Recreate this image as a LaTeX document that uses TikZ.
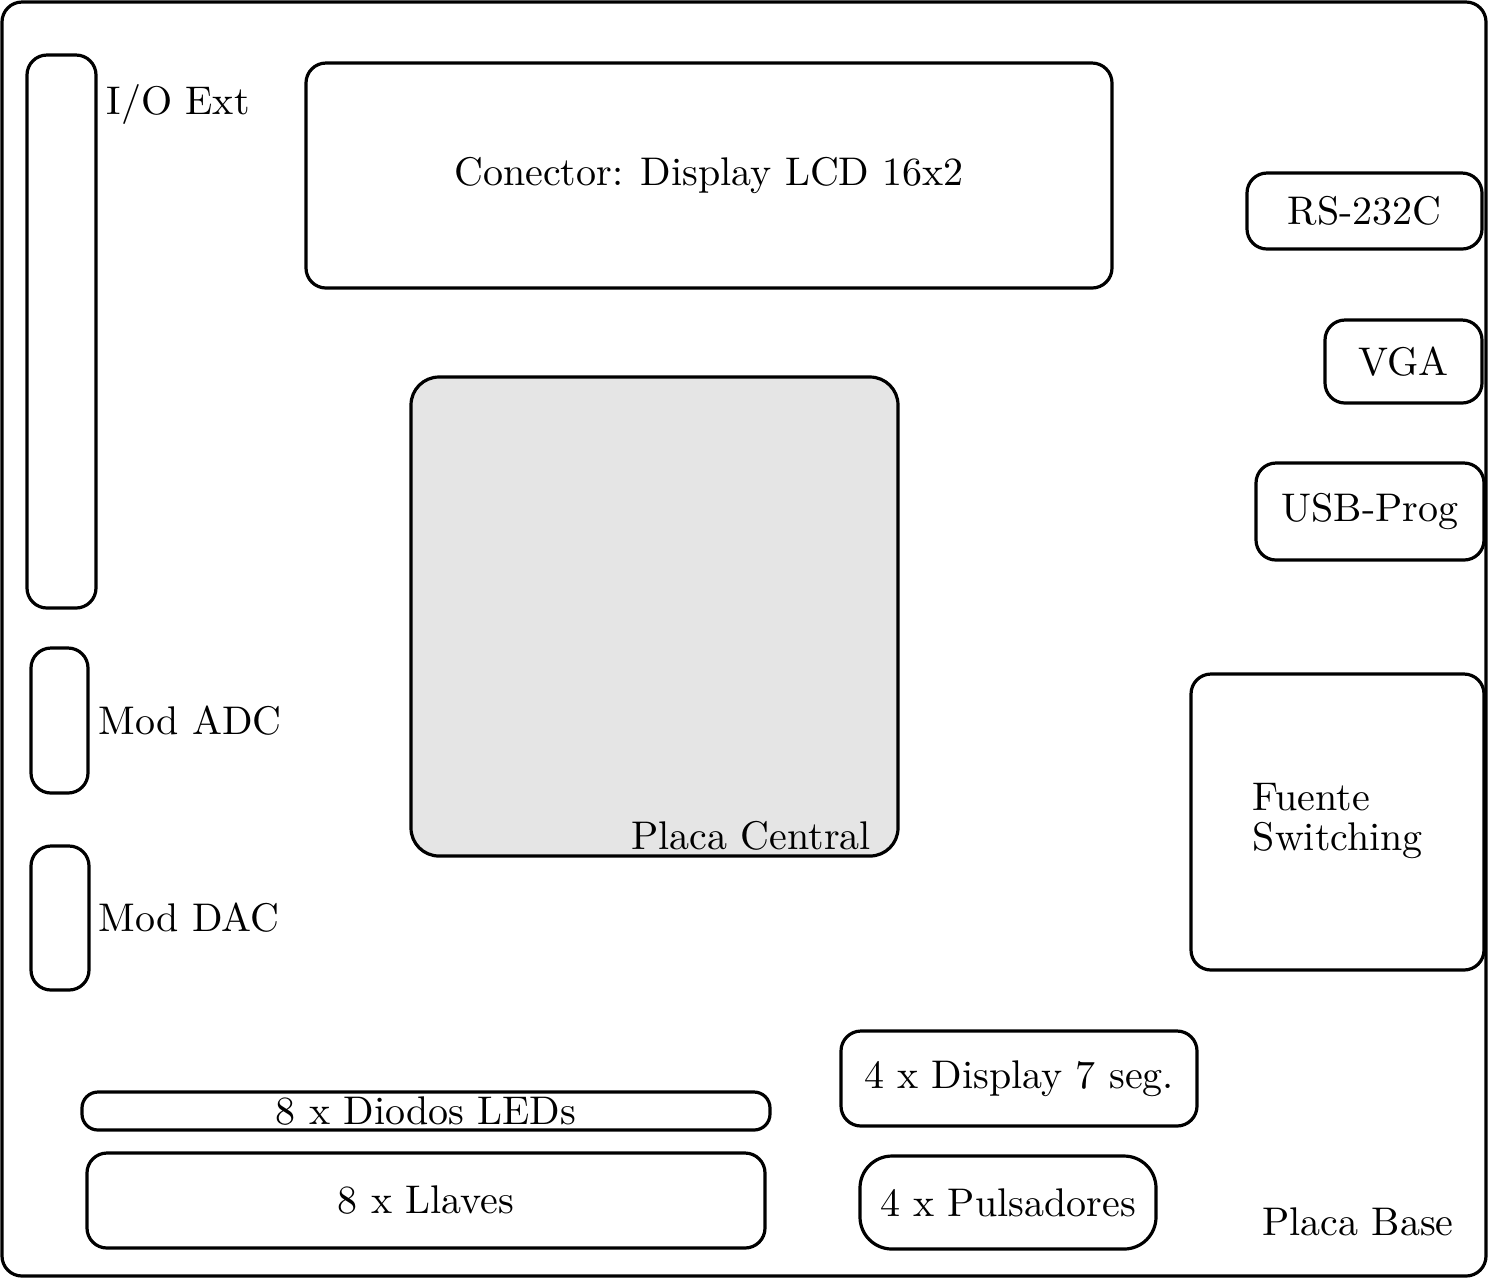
\documentclass[tikz,border=0pt]{standalone}
\begin{document}
\begin{tikzpicture}[x=0.25pt,y=-0.25pt,
  box/.style={draw,line width=0.8pt,rounded corners=5pt,inner sep=0pt,outer sep=0pt},
  lbl/.style={inner sep=0pt,font=\fontsize{10}{12}\selectfont}]
\useasboundingbox (0,0) rectangle (1488,1278);
\node[box,minimum width=371pt,minimum height=318.5pt] (base) at (744,639) {};
\node[box,minimum width=17.25pt,minimum height=138.25pt] (io) at (61.5,331.5) {};
\node[box,minimum width=201.5pt,minimum height=56.25pt] (lcd) at (709,175.5) {};
\node[box,minimum width=58.75pt,minimum height=19pt] (rs) at (1364.5,211) {};
\node[box,minimum width=39.25pt,minimum height=20.75pt] (vga) at (1403.5,361.5) {};
\node[box,minimum width=57pt,minimum height=24.25pt] (usb) at (1370,511.5) {};
\node[box,minimum width=73.25pt,minimum height=74pt] (fuente) at (1337.5,822) {};
\node[box,fill=black!10,rounded corners=7pt,minimum width=121.75pt,minimum height=119.75pt] (central) at (654.5,616.5) {};
\node[box,minimum width=14.25pt,minimum height=36.25pt] (adc) at (59.5,720.5) {};
\node[box,minimum width=14.5pt,minimum height=36pt] (dac) at (60,918) {};
\node[box,rounded corners=4pt,minimum width=172pt,minimum height=9.5pt] (leds) at (426,1111) {};
\node[box,minimum width=169.5pt,minimum height=23.75pt] (llaves) at (426,1200.5) {};
\node[box,minimum width=89pt,minimum height=23.75pt] (disp) at (1019,1078.5) {};
\node[box,rounded corners=8pt,minimum width=74pt,minimum height=23.25pt] (puls) at (1008,1202.5) {};

\node[lbl,anchor=west] (tio) at (106,104) {I/O Ext};
\node[lbl] (tlcd) at (lcd.center) {Conector: Display LCD 16x2};
\node[lbl] (trs) at (rs.center) {RS-232C};
\node[lbl] (tvga) at (vga.center) {VGA};
\node[lbl] (tusb) at (usb.center) {USB-Prog};
\node[lbl,anchor=west,align=left,font=\fontsize{10}{10}\selectfont] (tfu) at (1252,821) {Fuente\\Switching};
\node[lbl] (tcen) at (751,836) {Placa Central};
\node[lbl,anchor=west] (tadc) at (98,721) {Mod ADC};
\node[lbl,anchor=west] (tdac) at (98,918) {Mod DAC};
\node[lbl] (tleds) at (leds.center) {8 x Diodos LEDs};
\node[lbl] (tllav) at (llaves.center) {8 x Llaves};
\node[lbl] (tdisp) at (disp.center) {4 x Display 7 seg.};
\node[lbl] (tpuls) at (puls.center) {4 x Pulsadores};
\node[lbl] (tbase) at (1358,1222) {Placa Base};
\end{tikzpicture}
\end{document}
